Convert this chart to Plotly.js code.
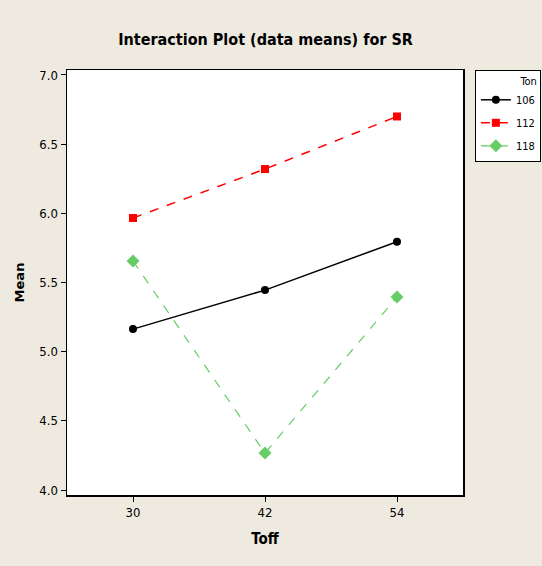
<!DOCTYPE html>
<html><head><meta charset="utf-8">
<script src="https://cdn.plot.ly/plotly-3.0.1.min.js"></script>
<style>html,body{margin:0;padding:0;background:#EEEAE0;}#chart{width:542px;height:566px;}</style>
</head><body><div id="chart"></div>
<script>
const toff = [30, 42, 54];
const tonLevels = ["106", "112", "118"];
const mean106 = [5.163, 5.445, 5.795];
const mean112 = [5.966, 6.32, 6.70];
const mean118 = [5.655, 4.267, 5.395];
const yTicks = [4.0, 4.5, 5.0, 5.5, 6.0, 6.5, 7.0];

const cond = '"DejaVu Sans Condensed", "DejaVu Sans", sans-serif';

const traces = [
  {x: toff, y: mean106, name: tonLevels[0], legendgroup: 'a', mode: 'lines+markers',
   line: {color: '#000000', width: 1.5, dash: 'solid'},
   marker: {symbol: 'circle', size: 8, color: '#000000'}},
  {x: toff, y: mean112, name: tonLevels[1], legendgroup: 'b', mode: 'lines+markers',
   line: {color: '#FF0000', width: 1.5, dash: 'dash'},
   marker: {symbol: 'square', size: 8, color: '#FF0000'}},
  {x: toff, y: mean118, name: tonLevels[2], legendgroup: 'c', mode: 'lines+markers',
   line: {color: '#66CC66', width: 1.2, dash: 'dash'},
   marker: {symbol: 'diamond', size: 10, color: '#66CC66'}}
];

const layout = {
  width: 542, height: 566,
  paper_bgcolor: '#EEEAE0', plot_bgcolor: '#FFFFFF',
  margin: {l: 67, r: 79, t: 70, b: 71, autoexpand: false},
  title: {text: 'Interaction Plot (data means) for SR', x: 0.49, xanchor: 'center', y: 0.93, yanchor: 'middle',
          font: {family: cond, size: 16, weight: 'bold', color: '#000000'}},
  xaxis: {range: [24, 60], tickvals: toff, ticktext: toff.map(String),
          showline: true, linecolor: '#000', linewidth: 1.5, mirror: true,
          ticks: 'outside', ticklen: 5, tickcolor: '#000', showgrid: false, zeroline: false,
          tickfont: {family: cond, size: 13, color: '#000'},
          title: {text: 'Toff', font: {family: cond, size: 15, weight: 'bold', color: '#000'}, standoff: 14}},
  yaxis: {range: [3.964, 7.036], tickvals: yTicks, ticktext: yTicks.map(v => v.toFixed(1)),
          showline: true, linecolor: '#000', linewidth: 1.5, mirror: true,
          ticks: 'outside', ticklen: 5, tickcolor: '#000', showgrid: false, zeroline: false,
          tickfont: {family: cond, size: 13, color: '#000'},
          title: {text: 'Mean', font: {family: '"DejaVu Sans", sans-serif', size: 13, weight: 'bold', color: '#000'}, standoff: 12}},
  showlegend: true,
  legend: {x: 1.03, xanchor: 'left', y: 1, yanchor: 'top', traceorder: 'grouped',
           bgcolor: '#FFFFFF', bordercolor: '#000', borderwidth: 1,
           font: {family: cond, size: 11, color: '#000'},
           title: {text: 'Ton', side: 'top right', font: {family: cond, size: 11, color: '#000'}},
           tracegroupgap: 4, itemwidth: 30}
};

Plotly.newPlot('chart', traces, layout, {displayModeBar: false, staticPlot: true});
</script></body></html>
